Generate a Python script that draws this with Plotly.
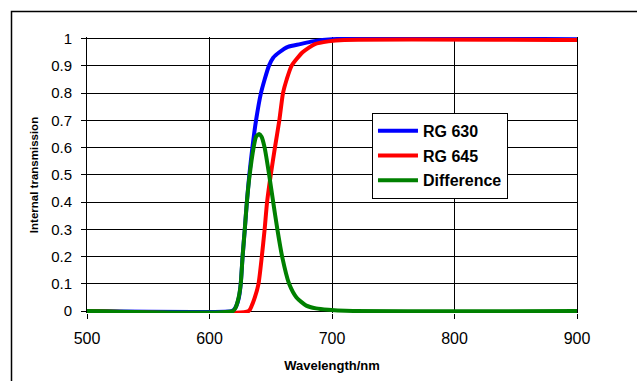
import plotly.graph_objects as go

# Wavelength (nm) / internal transmission
rg630_wl = [500, 618, 620, 622, 624, 625.5, 627, 628.8, 630.5, 632.5, 635, 638, 642, 645, 648.5, 652, 657, 664, 674, 684, 700, 900]
rg630_t = [0, 0, 0.005, 0.02, 0.05, 0.1, 0.2, 0.3, 0.4, 0.5, 0.6, 0.7, 0.8, 0.85, 0.9, 0.93, 0.95, 0.97, 0.98, 0.99, 0.998, 0.998]

rg645_wl = [500, 632, 634.5, 637, 640, 642.7, 645, 647, 650, 653.4, 657, 660, 663, 667, 676, 686, 697, 710, 900]
rg645_t = [0, 0, 0.02, 0.05, 0.1, 0.2, 0.3, 0.4, 0.5, 0.6, 0.7, 0.8, 0.85, 0.9, 0.95, 0.98, 0.99, 0.995, 0.995]

diff_wl = [500, 619, 621, 623.8, 625.5, 627, 628.8, 630.5, 632.8, 636, 638, 640.5, 642.5, 645, 648.7, 652, 655.4, 659.3, 665, 671, 679, 687, 697, 711, 900]
diff_t = [0, 0, 0.01, 0.05, 0.1, 0.2, 0.3, 0.4, 0.5, 0.6, 0.64, 0.65, 0.64, 0.6, 0.5, 0.4, 0.3, 0.2, 0.1, 0.05, 0.02, 0.01, 0.005, 0.001, 0]

series_names = ["RG 630", "RG 645", "Difference"]
series_colors = ["#0000FF", "#FF0000", "#008000"]

x_ticks = [500, 600, 700, 800, 900]
y_ticks = [0, 0.1, 0.2, 0.3, 0.4, 0.5, 0.6, 0.7, 0.8, 0.9, 1]
y_ticktext = ["0", "0.1", "0.2", "0.3", "0.4", "0.5", "0.6", "0.7", "0.8", "0.9", "1"]

FONT = "Liberation Sans, Arial, sans-serif"

fig = go.Figure()
for i, (wl, t) in enumerate([(rg630_wl, rg630_t), (rg645_wl, rg645_t), (diff_wl, diff_t)]):
    fig.add_trace(go.Scatter(
        x=wl, y=t, mode="lines", name=series_names[i],
        legendgroup=series_names[i],
        line=dict(color=series_colors[i], width=4, shape="spline", smoothing=0.6),
        hoverinfo="skip",
    ))

fig.update_layout(
    width=637, height=381,
    margin=dict(l=87, r=60, t=37.4, b=68.1, pad=0),
    paper_bgcolor="white", plot_bgcolor="white",
    font=dict(family=FONT, color="black"),
    showlegend=True,
    legend=dict(
        x=0.5816, y=0.7256, xanchor="left", yanchor="top",
        bgcolor="white", bordercolor="black", borderwidth=1,
        font=dict(family=FONT, size=16, color="black", weight="bold"),
        traceorder="grouped", tracegroupgap=1,
        itemwidth=40,
    ),
    xaxis=dict(
        range=[500, 900], tickvals=x_ticks, ticktext=[str(v) for v in x_ticks],
        showgrid=True, gridcolor="black", gridwidth=1,
        showline=False,
        ticks="outside", ticklen=5, tickcolor="black", tickwidth=1,
        tickfont=dict(family=FONT, size=16, color="black"),
        ticklabelstandoff=6,
        zeroline=False,
        title=dict(text="Wavelength/nm", font=dict(family=FONT, size=13, color="black", weight="bold"), standoff=14),
    ),
    yaxis=dict(
        range=[-0.007, 1.006], tickvals=y_ticks, ticktext=y_ticktext,
        showgrid=True, gridcolor="black", gridwidth=1,
        showline=True, mirror=True, linecolor="black", linewidth=1,
        ticks="outside", ticklen=5, tickcolor="black", tickwidth=1,
        tickfont=dict(family=FONT, size=15, color="black"),
        ticklabelstandoff=6,
        zeroline=False,
        title=dict(text="Internal transmission", font=dict(family=FONT, size=11.5, color="black", weight="bold"), standoff=10),
    ),
    shapes=[dict(
        type="rect", xref="paper", yref="paper",
        x0=(11.5 - 87) / 490, x1=(645 - 87) / 490,
        y0=-(390 - 312.9) / 275.5, y1=1 + (37.4 - 12) / 275.5,
        line=dict(color="black", width=1.5), fillcolor="rgba(0,0,0,0)", layer="below",
    )],
)

fig.write_html(
    "out.html",
    config={"displayModeBar": False, "staticPlot": True},
    post_script="document.body.style.margin='0';document.body.style.overflow='hidden';",
)
